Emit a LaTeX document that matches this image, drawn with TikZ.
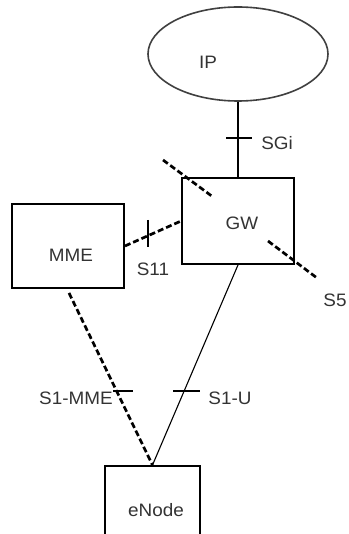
\documentclass[tikz,border=0pt]{standalone}
\usepackage{fontspec}
\setmainfont{Liberation Sans}[FakeStretch=1.05]
\usetikzlibrary{shapes.geometric,calc}
\begin{document}
\begin{tikzpicture}[x=1pt,y=-1pt,
  box/.style={draw,line width=1.9pt,rectangle,inner sep=0pt},
  lbl/.style={text=black!80,font=\fontsize{18}{21}\selectfont,inner sep=0pt},
  dsh/.style={line width=2.7pt,dash pattern=on 6pt off 3pt},
  tick/.style={line width=1.6pt}]
\useasboundingbox (0,0) rectangle (348,534);
% nodes
\node[draw,ellipse,line width=1.6pt,draw=black!75,minimum width=180pt,minimum height=94pt,inner sep=0pt] (IP) at (238,54) {};
\node[box,minimum width=112pt,minimum height=86pt] (GW) at (238,221) {};
\node[box,minimum width=112pt,minimum height=84pt] (MME) at (68,246) {};
\node[box,minimum width=95pt,minimum height=88pt] (eNode) at (152.5,510) {};
% labels
\node[lbl] (tIP) at (208,62) {IP};
\node[lbl] (tGW) at (242,223) {GW};
\node[lbl] (tMME) at (71,255) {MME};
\node[lbl] (teNode) at (156,510) {eNode};
\node[lbl] (tSGi) at (277,143) {SGi};
\node[lbl] (tS11) at (153,269) {S11};
\node[lbl] (tS5) at (335,300) {S5};
\node[lbl] (tS1MME) at (76,398) {S1-MME};
\node[lbl] (tS1U) at (230,398) {S1-U};
% connectors
\draw[line width=1.9pt] (IP.south) -- (GW.north);
\draw[dsh] (MME.east) -- (GW.west);
\draw[dsh] ($(MME.south)+(1,4)$) -- (eNode.north);
\draw[line width=1.1pt] (GW.south) -- (eNode.north);
% free dashed stubs
\coordinate (a1) at (163,160);
\coordinate (a2) at (213,197);
\coordinate (b1) at (268,241);
\coordinate (b2) at (317,278);
\draw[dsh] (a1) -- (a2);
\draw[dsh] (b1) -- (b2);
% ticks
\coordinate (k1) at (238,138);
\draw[tick] ($(k1)+(-12,0)$) -- ($(k1)+(14,0)$);
\coordinate (k2) at (148,233);
\draw[tick] ($(k2)+(0,-13)$) -- ($(k2)+(0,14)$);
\coordinate (k3) at (123,391);
\draw[tick] ($(k3)+(-10,0)$) -- ($(k3)+(10,0)$);
\coordinate (k4) at (186.5,391);
\draw[tick] ($(k4)+(-13.5,0)$) -- ($(k4)+(13.5,0)$);
\end{tikzpicture}
\end{document}
